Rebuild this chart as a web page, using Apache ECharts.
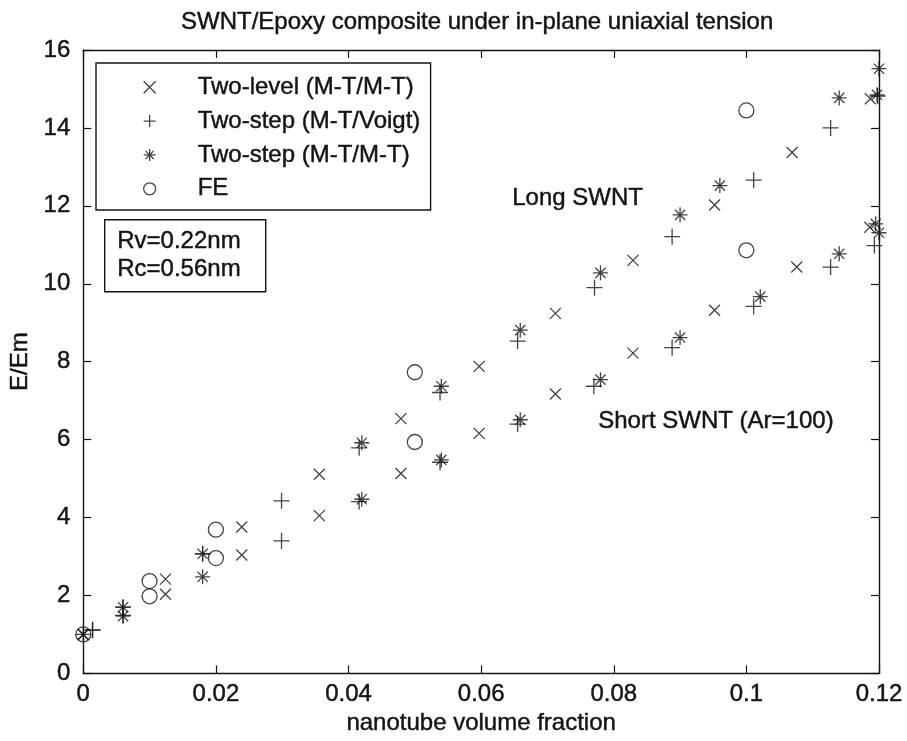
<!DOCTYPE html>
<html>
<head>
<meta charset="utf-8">
<script src="https://cdn.jsdelivr.net/npm/echarts@6/dist/echarts.min.js"></script>
<style>html,body{margin:0;padding:0;background:#fff}#c{width:907px;height:741px}</style>
</head>
<body>
<div id="c"></div>
<script>
// ---- data ----
const xTicks = [0, 0.02, 0.04, 0.06, 0.08, 0.1, 0.12];
const yTicks = [0, 2, 4, 6, 8, 10, 12, 14, 16];
const seriesNames = ['Two-level (M-T/M-T)', 'Two-step (M-T/Voigt)', 'Two-step (M-T/M-T)', 'FE'];

const twoLevelLong = [[0,1],[0.0124,2.42],[0.0239,3.76],[0.0356,5.11],[0.0479,6.54],[0.0597,7.88],[0.0712,9.24],[0.0829,10.6],[0.0952,12.02],[0.1069,13.37],[0.1187,14.75]];
const twoLevelShort = [[0.0124,2.03],[0.0239,3.04],[0.0356,4.05],[0.0479,5.13],[0.0597,6.16],[0.0712,7.17],[0.0829,8.22],[0.0952,9.32],[0.1076,10.43],[0.1186,11.45]];

const voigtLong = [[0.0014,1.12],[0.006,1.70],[0.018,3.07],[0.0299,4.43],[0.0416,5.79],[0.0538,7.21],[0.0655,8.53],[0.0771,9.90],[0.0888,11.21],[0.1011,12.66],[0.1127,14.0],[0.1198,14.82]];
const voigtShort = [[0.0014,1.11],[0.006,1.49],[0.0299,3.40],[0.0416,4.41],[0.0538,5.42],[0.0655,6.40],[0.0770,7.37],[0.0888,8.36],[0.1011,9.42],[0.1127,10.43],[0.1193,10.98]];

const mtmtLong = [[0,1],[0.006,1.70],[0.018,3.07],[0.042,5.92],[0.054,7.37],[0.0659,8.81],[0.078,10.28],[0.090,11.77],[0.096,12.52],[0.114,14.77],[0.1197,14.85],[0.1200,15.52]];
const mtmtShort = [[0.006,1.47],[0.018,2.48],[0.042,4.47],[0.054,5.48],[0.0659,6.51],[0.078,7.54],[0.090,8.62],[0.1021,9.67],[0.114,10.77],[0.1195,11.54],[0.1200,11.31]];

const feLong = [[0,1],[0.01,2.37],[0.02,3.69],[0.05,7.73],[0.10,14.45]];
const feShort = [[0.01,1.98],[0.02,2.96],[0.05,5.94],[0.10,10.86]];

const noteLong = 'Long SWNT';
const noteShort = 'Short SWNT (Ar=100)';
const paramText = 'Rv=0.22nm\nRc=0.56nm';
const titleText = 'SWNT/Epoxy composite under in-plane uniaxial tension';
const xName = 'nanotube volume fraction';
const yName = 'E/Em';

// ---- styling ----
const INK = '#141414';
const FONT = 'Liberation Sans, Arial, Helvetica, sans-serif';
const HEAVY = {textBorderColor: INK, textBorderWidth: 0.45};
const SYM_X = 'path://M0,0L10,10M10,0L0,10';
const SYM_PLUS = 'path://M5,0L5,10M0,5L10,5';
const SYM_STAR = 'path://M5,0L5,10M0,5L10,5M1.6,1.6L8.4,8.4M8.4,1.6L1.6,8.4';
const markStyle = {color: 'rgba(0,0,0,0)', borderColor: INK, borderWidth: 1.3};

function txt(size) {
  return Object.assign({fontFamily: FONT, fontSize: size, color: INK, fontWeight: 'normal'}, HEAVY);
}

function axisCommon(extra) {
  return Object.assign({
    min: 0,
    axisLine: {show: true, onZero: false, lineStyle: {color: INK, width: 1.4}},
    axisTick: {show: true, inside: true, length: 8, lineStyle: {color: INK, width: 1.2}},
    splitLine: {show: false},
  }, extra);
}

const chart = echarts.init(document.getElementById('c'), null, {renderer: 'canvas'});
chart.setOption({
  backgroundColor: '#fff',
  animation: false,
  textStyle: {fontFamily: FONT},
  title: {
    text: titleText,
    left: 181, top: 10, padding: 0,
    textStyle: txt(24)
  },
  grid: {left: 81, right: 28, top: 50, bottom: 64},
  legend: {
    data: [
      {name: seriesNames[0], icon: SYM_X},
      {name: seriesNames[1], icon: SYM_PLUS},
      {name: seriesNames[2], icon: SYM_STAR},
      {name: seriesNames[3], icon: 'circle'}
    ],
    orient: 'vertical',
    left: 96, top: 63,
    padding: [12, 10, 9, 47],
    itemWidth: 14, itemHeight: 12, itemGap: 9.4,
    symbolKeepAspect: true,
    borderColor: INK, borderWidth: 1.4,
    backgroundColor: '#fff',
    itemStyle: {color: 'rgba(0,0,0,0)', borderColor: INK, borderWidth: 1.3},
    textStyle: Object.assign(txt(24), {padding: [0, 0, 0, 36]}),
    selectedMode: false
  },
  xAxis: [
    axisCommon({
      type: 'value', position: 'bottom', max: 0.12, interval: 0.02,
      name: xName, nameLocation: 'middle', nameGap: 33,
      nameTextStyle: txt(24),
      axisLabel: Object.assign(txt(24), {show: true, margin: 9,
        formatter: v => { const t = xTicks.find(k => Math.abs(k - v) < 1e-9); return t === undefined ? '' : String(t); }})
    }),
    axisCommon({type: 'value', position: 'top', max: 0.12, interval: 0.02, axisLabel: {show: false}})
  ],
  yAxis: [
    axisCommon({
      type: 'value', position: 'left', max: 16, interval: 2,
      name: yName, nameLocation: 'middle', nameGap: 33, nameRotate: 90,
      nameTextStyle: txt(24),
      axisLabel: Object.assign(txt(24), {show: true, margin: 13,
        formatter: v => { const t = yTicks.find(k => Math.abs(k - v) < 1e-9); return t === undefined ? '' : String(t); }})
    }),
    axisCommon({type: 'value', position: 'right', max: 16, interval: 2, axisLabel: {show: false}})
  ],
  series: [
    {name: seriesNames[0], type: 'scatter', symbol: SYM_X, symbolSize: 11, symbolKeepAspect: true,
      itemStyle: markStyle, data: twoLevelLong.concat(twoLevelShort), z: 3},
    {name: seriesNames[1], type: 'scatter', symbol: SYM_PLUS, symbolSize: 16, symbolKeepAspect: true,
      itemStyle: markStyle, data: voigtLong.concat(voigtShort), z: 3},
    {name: seriesNames[2], type: 'scatter', symbol: SYM_STAR, symbolSize: 15, symbolKeepAspect: true,
      itemStyle: markStyle, data: mtmtLong.concat(mtmtShort), z: 4},
    {name: seriesNames[3], type: 'scatter', symbol: 'circle', symbolSize: 15,
      itemStyle: markStyle, data: feLong.concat(feShort), z: 3}
  ],
  graphic: [
    {type: 'text', left: 512, top: 186, z: 10,
      style: {text: noteLong, fontFamily: FONT, fontSize: 24, fill: INK, stroke: INK, lineWidth: 0.45}},
    {type: 'text', left: 598, top: 409, z: 10,
      style: {text: noteShort, fontFamily: FONT, fontSize: 24, fill: INK, stroke: INK, lineWidth: 0.45}},
    {type: 'rect', left: 104, top: 219, z: 10,
      shape: {width: 161, height: 72},
      style: {fill: '#fff', stroke: INK, lineWidth: 1.4}},
    {type: 'text', left: 117, top: 228, z: 11,
      style: {text: paramText, fontFamily: FONT, fontSize: 24, lineHeight: 27.6, fill: INK, stroke: INK, lineWidth: 0.45}}
  ]
});
</script>
</body>
</html>
